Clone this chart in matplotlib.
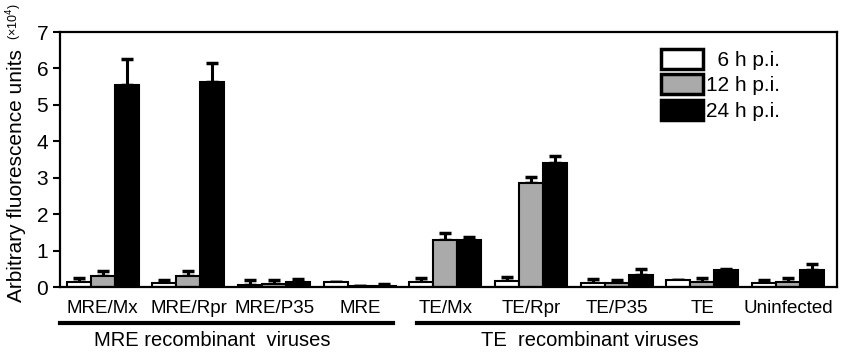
import numpy as np
import matplotlib
matplotlib.use('Agg')
import matplotlib.pyplot as plt

plt.rcParams['font.family'] = ['Liberation Sans', 'DejaVu Sans']

# fluorescence (x10^4) per virus at 6, 12 and 24 h post infection
viruses = ['MRE/Mx', 'MRE/Rpr', 'MRE/P35', 'MRE', 'TE/Mx', 'TE/Rpr', 'TE/P35', 'TE', 'Uninfected']
h6 = [0.14, 0.10, 0.05, 0.13, 0.14, 0.18, 0.11, 0.19, 0.10]
h6_err = [0.11, 0.10, 0.14, 0.0, 0.11, 0.11, 0.12, 0.0, 0.09]
h12 = [0.30, 0.30, 0.08, 0.04, 1.29, 2.87, 0.11, 0.15, 0.15]
h12_err = [0.13, 0.13, 0.11, 0.0, 0.19, 0.14, 0.09, 0.10, 0.11]
h24 = [5.55, 5.62, 0.13, 0.04, 1.29, 3.40, 0.32, 0.46, 0.46]
h24_err = [0.71, 0.53, 0.10, 0.05, 0.08, 0.21, 0.17, 0.05, 0.17]
series_labels = ['  6 h p.i.', '12 h p.i.', '24 h p.i.']
colors = ['white', '#aaaaaa', 'black']

fig = plt.figure(figsize=(8.41, 3.54), dpi=100)
ax = fig.add_axes([0.0713, 0.189, 0.9239, 0.7206])

x = np.arange(len(viruses))
w = 0.28
for i, (vals, errs) in enumerate([(h6, h6_err), (h12, h12_err), (h24, h24_err)]):
    pos = x + (i - 1) * w
    ax.bar(pos, vals, w, color=colors[i], edgecolor='black', linewidth=1.5,
           label=series_labels[i], zorder=2)
    ax.errorbar(pos, vals, yerr=[np.zeros(len(vals)), errs], fmt='none',
                ecolor='black', elinewidth=2.2, capsize=4.5, capthick=2.5, zorder=1)

ax.set_xlim(-0.5, 8.57)
ax.set_ylim(0, 7)
ax.set_yticks(range(8))
ax.tick_params(axis='y', labelsize=15, length=5, width=1.5, direction='out')
ax.set_xticks(x)
ax.set_xticklabels(viruses, fontsize=13.5)
ax.tick_params(axis='x', length=0, pad=9)
for s in ax.spines.values():
    s.set_linewidth(1.6)

# group brackets under the tick labels
trans = ax.get_xaxis_transform()
ax.plot([-0.5, 3.39], [-0.141, -0.141], color='black', lw=3, transform=trans, clip_on=False)
ax.plot([3.67, 7.42], [-0.141, -0.141], color='black', lw=3, transform=trans, clip_on=False)
ax.text(1.28, -0.21, 'MRE recombinant  viruses', transform=trans, ha='center', va='center', fontsize=14.5)
ax.text(5.69, -0.21, 'TE  recombinant viruses', transform=trans, ha='center', va='center', fontsize=14.5)

fig.text(17 / 841, 1 - 302 / 354, 'Arbitrary fluorescence units', rotation=90,
         ha='center', va='bottom', fontsize=15)
fig.text(14 / 841, 1 - 40 / 354, r'(×10$^4$)', rotation=90,
         ha='center', va='bottom', fontsize=9)

leg = ax.legend(loc='upper right', bbox_to_anchor=(0.945, 0.99), frameon=False,
                fontsize=15, handlelength=2.0, handleheight=1.1,
                handletextpad=0.12, labelspacing=0.2, borderpad=0.2)
for p in leg.get_patches():
    p.set_linewidth(2.5)

fig.savefig('out.png', dpi=100)
